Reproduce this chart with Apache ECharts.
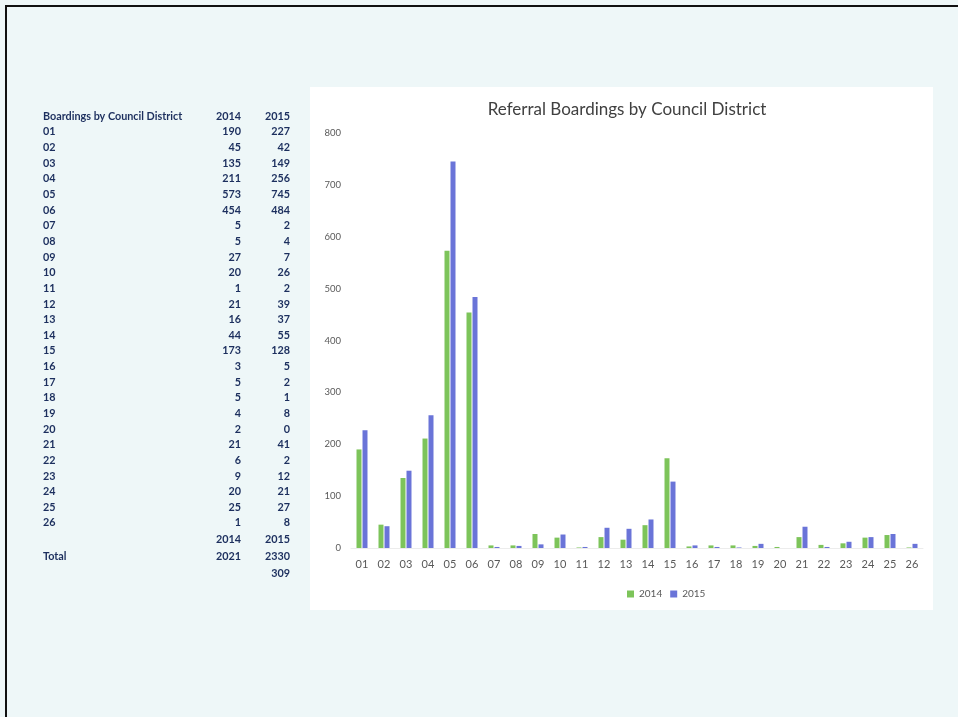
<!DOCTYPE html>
<html><head><meta charset="utf-8">
<script src="https://cdn.jsdelivr.net/npm/echarts@6/dist/echarts.min.js"></script>
<style>html,body{margin:0;padding:0;background:#fff;}#c{width:958px;height:717px;}</style>
</head><body><div id="c"></div>
<script>
const districts = ['01','02','03','04','05','06','07','08','09','10','11','12','13','14','15','16','17','18','19','20','21','22','23','24','25','26'];
const v2014 = [190,45,135,211,573,454,5,5,27,20,1,21,16,44,173,3,5,5,4,2,21,6,9,20,25,1];
const v2015 = [227,42,149,256,745,484,2,4,7,26,2,39,37,55,128,5,2,1,8,0,41,2,12,21,27,8];
const yTicks = [0,100,200,300,400,500,600,700,800];
const tableTitle = 'Boardings by Council District';
const years = ['2014','2015'];
const totals = [2021,2330];
const diff = 309;

const chart = echarts.init(document.getElementById('c'));
const navy = '#1c2f5e';
const tf = {fontFamily:'Lato', fontWeight:'bold', fontSize:10.8, fill:navy};
const g = [];
g.push({type:'rect', shape:{x:0,y:0,width:958,height:717}, style:{fill:'#eef7f8'}, z:-10});
g.push({type:'rect', shape:{x:310,y:87,width:623,height:523}, style:{fill:'#ffffff'}, z:-9});
g.push({type:'rect', shape:{x:6,y:6,width:955,height:720}, style:{fill:'none', stroke:'#111', lineWidth:2}, z:-8});
function t(x,y,s,align){ g.push({type:'text', x:x, y:y, style:Object.assign({}, tf, {text:s, textAlign:align||'left', textVerticalAlign:'middle'})}); }
t(43,117,tableTitle); t(241,117,years[0],'right'); t(290,117,years[1],'right');
districts.forEach((d,i)=>{
  const y = 132 + i*15.64;
  t(43,y,d); t(241,y,String(v2014[i]),'right'); t(290,y,String(v2015[i]),'right');
});
t(241,540,years[0],'right'); t(290,540,years[1],'right');
t(43,557,'Total'); t(241,557,String(totals[0]),'right'); t(290,557,String(totals[1]),'right');
t(290,574,String(diff),'right');

chart.setOption({
  animation:false,
  graphic:g,
  title:{text:'Referral Boardings by Council District', left:622, top:96, textAlign:'center',
    textStyle:{fontFamily:'Lato', fontWeight:'normal', fontSize:17, color:'#404040'}},
  legend:{data:['2014','2015'], left:622, top:584, textAlign:'center', itemWidth:7, itemHeight:7, itemGap:8,
    icon:'rect', textStyle:{fontFamily:'Lato', fontSize:10, color:'#595959'}},
  grid:{left:351, right:35, top:133, bottom:169},
  xAxis:{type:'category', data:districts, axisLine:{show:true, lineStyle:{color:'#ececec'}}, axisTick:{show:false},
    axisLabel:{fontFamily:'Lato', fontSize:11, color:'#595959', margin:11, interval:0}},
  yAxis:{type:'value', min:yTicks[0], max:yTicks[yTicks.length-1], interval:100, axisLine:{show:false}, axisTick:{show:false},
    splitLine:{show:false}, axisLabel:{fontFamily:'Lato', fontSize:9.5, color:'#595959', margin:10}},
  series:[
    {name:'2014', type:'bar', data:v2014, barWidth:5, barGap:'20%', itemStyle:{color:'#7dc45a'}},
    {name:'2015', type:'bar', data:v2015, barWidth:5, barGap:'20%', itemStyle:{color:'#6a74d8'}}
  ]
});
</script></body></html>
